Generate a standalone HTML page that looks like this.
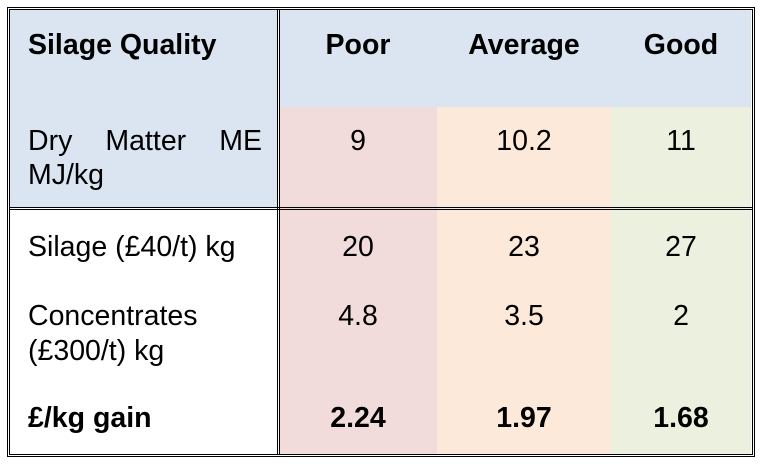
<!DOCTYPE html>
<html><head><meta charset="utf-8"><style>
body{margin:0;width:765px;height:471px;background:#fff;position:relative;font-family:"Liberation Sans",Arial,sans-serif;color:#000;overflow:hidden}
.a{position:absolute}
.t{position:absolute;font-size:28.5px;line-height:30px;white-space:nowrap}
.c{transform:translateX(-50%)}
.b{font-weight:bold}
.ln{position:absolute;background:#000}
</style></head><body>
<div class="a" style="left:10px;top:10px;width:267px;height:198px;background:#dbe5f1"></div>
<div class="a" style="left:280px;top:10px;width:471px;height:97px;background:#dbe5f1"></div>
<div class="a" style="left:280px;top:107px;width:157px;height:347px;background:#f2dcdb"></div>
<div class="a" style="left:437px;top:107px;width:174px;height:347px;background:#fde9d9"></div>
<div class="a" style="left:611px;top:107px;width:140px;height:347px;background:#ebf1de"></div>

<div class="ln" style="left:7px;top:7px;width:747px;height:1px"></div>
<div class="ln" style="left:9px;top:9px;width:743px;height:1px"></div>
<div class="ln" style="left:7px;top:456px;width:747px;height:1px"></div>
<div class="ln" style="left:9px;top:454px;width:743px;height:1px"></div>
<div class="ln" style="left:7px;top:7px;width:1px;height:450px"></div>
<div class="ln" style="left:9px;top:9px;width:1px;height:446px"></div>
<div class="ln" style="left:754px;top:7px;width:1px;height:450px"></div>
<div class="ln" style="left:752px;top:9px;width:1px;height:446px"></div>
<div class="ln" style="left:277px;top:9px;width:1px;height:446px"></div>
<div class="ln" style="left:279px;top:9px;width:1px;height:446px"></div>
<div class="ln" style="left:9px;top:207px;width:743px;height:1px"></div>
<div class="ln" style="left:9px;top:209px;width:743px;height:1px"></div>

<div class="t b" style="left:28px;top:30px">Silage Quality</div>
<div class="t b c" style="left:358px;top:30px">Poor</div>
<div class="t b c" style="left:524px;top:30px">Average</div>
<div class="t b c" style="left:681px;top:30px">Good</div>

<div class="t" style="left:28px;top:126px;width:234px;display:flex;justify-content:space-between"><span>Dry</span><span>Matter</span><span>ME</span></div>
<div class="t" style="left:28px;top:160px">MJ/kg</div>
<div class="t c" style="left:358px;top:126px">9</div>
<div class="t c" style="left:524px;top:126px">10.2</div>
<div class="t c" style="left:681px;top:126px">11</div>

<div class="t" style="left:28px;top:232px">Silage (£40/t) kg</div>
<div class="t c" style="left:358px;top:232px">20</div>
<div class="t c" style="left:524px;top:232px">23</div>
<div class="t c" style="left:681px;top:232px">27</div>

<div class="t" style="left:28px;top:301px">Concentrates</div>
<div class="t" style="left:28px;top:336px">(£300/t) kg</div>
<div class="t c" style="left:358px;top:301px">4.8</div>
<div class="t c" style="left:524px;top:301px">3.5</div>
<div class="t c" style="left:681px;top:301px">2</div>

<div class="t b" style="left:28px;top:403px">£/kg gain</div>
<div class="t b c" style="left:358px;top:403px">2.24</div>
<div class="t b c" style="left:524px;top:403px">1.97</div>
<div class="t b c" style="left:681px;top:403px">1.68</div>
</body></html>
